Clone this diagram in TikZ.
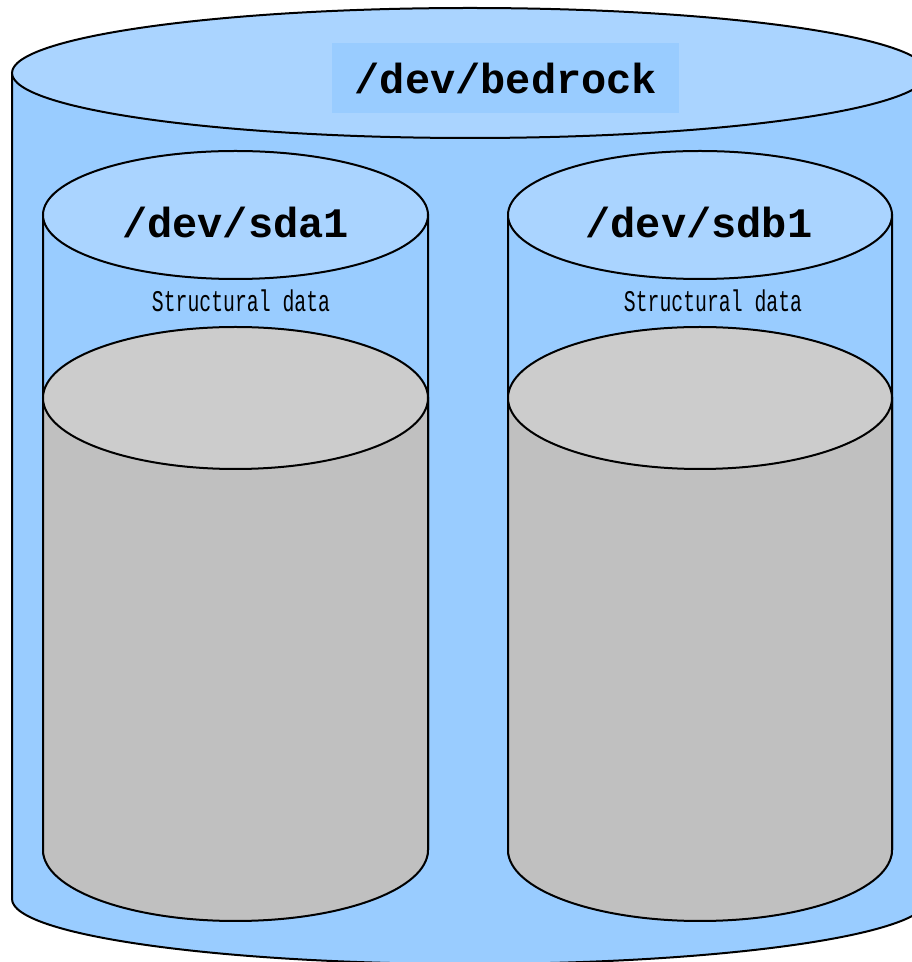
\documentclass[tikz,border=0pt]{standalone}
\usepackage{fontspec}
\setmonofont{Liberation Mono}
\definecolor{bodyblue}{HTML}{99CCFF}
\definecolor{topblue}{HTML}{AAD4FF}
\definecolor{bodygrey}{HTML}{C0C0C0}
\definecolor{topgrey}{HTML}{CCCCCC}
\tikzset{
  x=1pt, y=1pt,
  outline/.style={draw=black, line width=2pt},
  devlabel/.style={font=\fontsize{42}{46}\selectfont\ttfamily\bfseries, inner sep=0pt},
  sublabel/.style={font=\fontsize{30}{32}\selectfont\ttfamily, xscale=0.66, inner sep=0pt},
}
% \drumshape{cx}{ytop}{ybot}{rx}{ry}{body colour}{top colour}
\newcommand{\drumshape}[7]{%
  \path[outline, fill=#6] (#1-#4,#2) -- (#1-#4,#3)
    arc[start angle=180, end angle=360, x radius=#4, y radius=#5]
    -- (#1+#4,#2) -- cycle;
  \path[outline, fill=#7] (#1,#2) ellipse[x radius=#4, y radius=#5];
}
\begin{document}
\begin{tikzpicture}
\useasboundingbox (0,0) rectangle (912,962);
\clip (0,0) rectangle (912,962);
% outer volume
\drumshape{470}{889}{63}{458}{65}{bodyblue}{topblue}
\fill[bodyblue] (332,849) rectangle (679,919);
\node[devlabel] (bedrock) at (506,884) {/dev/bedrock};
% left disk
\drumshape{235.5}{747}{112}{192.5}{64}{bodyblue}{topblue}
\node[devlabel] (sda) at (235.5,740) {/dev/sda1};
\node[sublabel] (sdameta) at (241,661) {Structural data};
\drumshape{235.5}{564}{112}{192.5}{71}{bodygrey}{topgrey}
% right disk
\drumshape{700}{747}{112}{192}{64}{bodyblue}{topblue}
\node[devlabel] (sdb) at (699,740) {/dev/sdb1};
\node[sublabel] (sdbmeta) at (713,661) {Structural data};
\drumshape{700}{564}{112}{192}{71}{bodygrey}{topgrey}
\end{tikzpicture}
\end{document}
